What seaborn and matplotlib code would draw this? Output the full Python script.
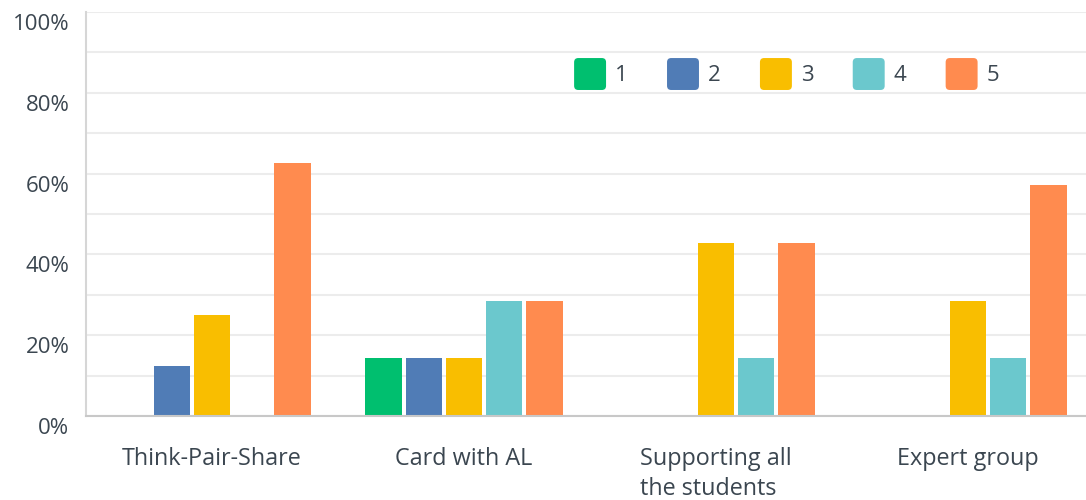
import numpy as np
import pandas as pd
import seaborn as sns
import matplotlib.pyplot as plt
from matplotlib.transforms import ScaledTranslation
from matplotlib.patches import FancyBboxPatch, Patch
from matplotlib.legend_handler import HandlerPatch

# Survey results: share of responses (%) per rating for each activity
activities = ["Think-Pair-Share", "Card with AL", "Supporting all\nthe students", "Expert group"]
ratings = ["1", "2", "3", "4", "5"]
rating_1 = [0.0, 14.29, 0.0, 0.0]
rating_2 = [12.5, 14.29, 0.0, 0.0]
rating_3 = [25.0, 14.29, 42.86, 28.57]
rating_4 = [0.0, 28.57, 14.29, 14.29]
rating_5 = [62.5, 28.57, 42.86, 57.14]
palette = ["#00BF6F", "#507CB6", "#F9BE00", "#6BC8CD", "#FF8B4F"]
y_ticks = [0, 20, 40, 60, 80, 100]

series = [rating_1, rating_2, rating_3, rating_4, rating_5]
df = pd.DataFrame(
    [(act, r, vals[i]) for r, vals in zip(ratings, series) for i, act in enumerate(activities)],
    columns=["activity", "rating", "percent"],
)

sns.set_theme(style="white")
plt.rcParams["font.family"] = ["Open Sans", "DejaVu Sans"]
text_color = "#3b4650"

fig = plt.figure(figsize=(10.86, 5.0), dpi=100)
ax = fig.add_axes([86 / 1086, 84 / 500, 1008 / 1086, 404 / 500])

sns.barplot(
    data=df, x="activity", y="percent", hue="rating", hue_order=ratings,
    palette=palette, width=0.8, gap=0.1, saturation=1, ax=ax, legend=False,
    linewidth=0,
)

ax.set_xlim(-0.5, 3.5)
ax.set_ylim(0, 100)
ax.set_xlabel("")
ax.set_ylabel("")

# gridlines every 10 %, labels every 20 %
ax.set_yticks(np.arange(0, 101, 10))
ax.set_yticklabels([f"{v}%" if v in y_ticks else "" for v in range(0, 101, 10)])
ax.yaxis.grid(True, color="#ececec", linewidth=1.5)
ax.set_axisbelow(True)
ax.tick_params(axis="y", length=0, pad=12, labelsize=16, labelcolor=text_color)
ax.tick_params(axis="x", length=0, pad=22, labelsize=16.8, labelcolor=text_color)
for lbl in ax.get_yticklabels():
    lbl.set_transform(lbl.get_transform() + ScaledTranslation(0, -0.10, fig.dpi_scale_trans))
for lbl in ax.get_xticklabels():
    lbl.set_multialignment("left")
    lbl.set_verticalalignment("top")
    lbl.set_linespacing(1.35)

for side in ["top", "right"]:
    ax.spines[side].set_visible(False)
ax.spines["left"].set_color("#d6d6d6")
ax.spines["left"].set_linewidth(1.5)
ax.spines["bottom"].set_color("#c8c8c8")
ax.spines["bottom"].set_linewidth(1.5)

SWATCH = 23  # swatch side in points


class RoundedSquare(HandlerPatch):
    def create_artists(self, legend, orig_handle, xdescent, ydescent, width, height, fontsize, trans):
        y0 = -ydescent + height / 2 - SWATCH / 2
        p = FancyBboxPatch(
            (-xdescent, y0), SWATCH, SWATCH,
            boxstyle="round,pad=0,rounding_size=3",
            facecolor=orig_handle.get_facecolor(), edgecolor="none", transform=trans,
        )
        return [p]


handles = [Patch(facecolor=c, label=r) for c, r in zip(palette, ratings)]
leg = ax.legend(
    handles=handles, ncol=5, loc="center left", bbox_to_anchor=(477 / 1008, 0.8465),
    frameon=False, fontsize=16, handlelength=SWATCH / 16, handleheight=SWATCH / 16,
    handletextpad=0.4, columnspacing=1.77, borderpad=0, labelcolor=text_color,
    handler_map={Patch: RoundedSquare()},
)

fig.savefig("out.png", dpi=100)
